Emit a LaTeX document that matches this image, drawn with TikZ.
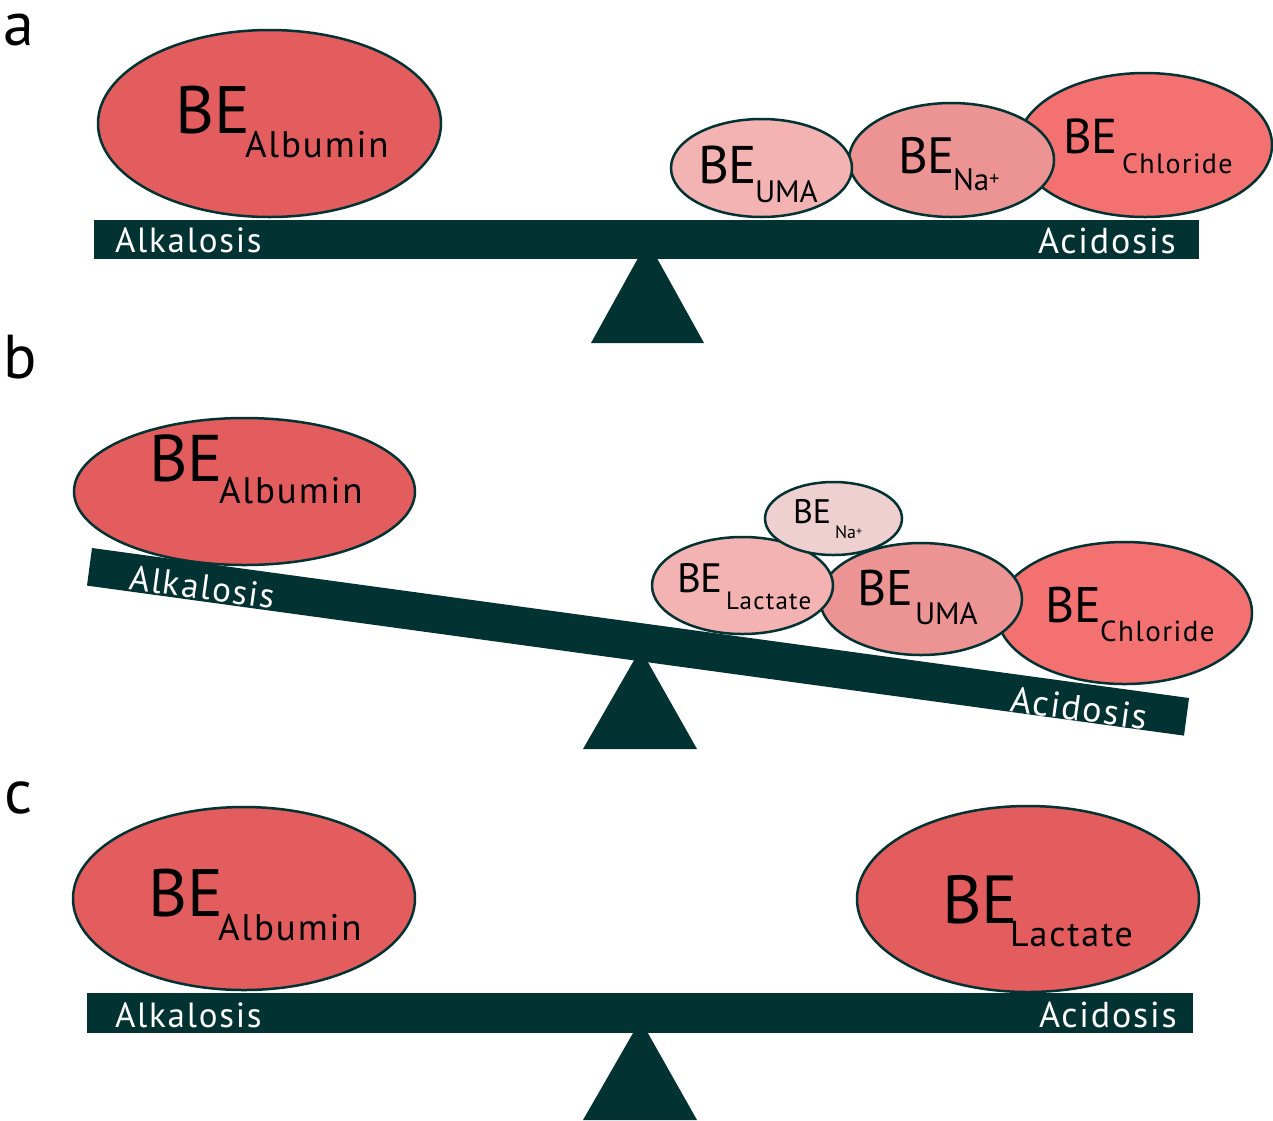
\documentclass[tikz,border=0pt]{standalone}
\usepackage{fontspec}
\setmainfont{PT Sans}
\newfontfamily\widefam{PT Sans}[LetterSpace=5]
\usetikzlibrary{shapes.geometric}
\definecolor{beamc}{HTML}{033232}
\definecolor{albc}{HTML}{E35D5E}
\definecolor{chlc}{HTML}{F47171}
\definecolor{midc}{HTML}{EC9494}
\definecolor{lightc}{HTML}{F3B3B3}
\definecolor{palec}{HTML}{EFD0D0}
\newcommand\fsz[1]{\fontsize{#1}{#1}\selectfont}
\newcommand\wsz[1]{\widefam\fontsize{#1}{#1}\selectfont}
\begin{document}
\begin{tikzpicture}[x=1pt,y=-1pt,
  blob/.style={ellipse, draw=beamc, line width=2.5pt, inner sep=0pt, outer sep=0pt},
  txt/.style={anchor=base west, inner sep=0pt, outer sep=0pt, text=black},
  beamtxt/.style={anchor=base west, inner sep=0pt, outer sep=0pt, text=white},
  paneltxt/.style={anchor=base west, inner sep=0pt, outer sep=0pt, text=black, font=\fsz{62}}]
\useasboundingbox (0,0) rectangle (1273,1120);

% ---------------- panel a ----------------
\node[paneltxt] (la) at (4,45) {a};
\fill[beamc] (591,343) -- (647.5,241) -- (704,343) -- cycle;
\fill[beamc] (94,220) rectangle (1199,259);
\node[beamtxt, font=\wsz{35}] (alkA) at (115,252) {Alkalosis};
\node[beamtxt, font=\wsz{36}] (acdA) at (1038,253) {Acidosis};

\node[blob, fill=albc, minimum width=343pt, minimum height=187pt] (albA) at (269.5,123.5) {};
\node[txt, font=\fsz{67}] (albAbe) at (175,133) {BE};
\node[txt, font=\wsz{37}] (albAsub) at (245,157) {Albumin};

\node[blob, fill=chlc, minimum width=254pt, minimum height=144pt] (chlA) at (1145,145) {};
\node[blob, fill=midc, minimum width=205pt, minimum height=114pt] (naA) at (951.5,160) {};
\node[blob, fill=lightc, minimum width=181pt, minimum height=98pt] (umaA) at (761.5,168) {};
\node[txt, font=\fsz{53}] (umaAbe) at (698,183) {BE};
\node[txt, font=\fsz{31}] (umaAsub) at (755,202) {UMA};
\node[txt, font=\fsz{51}] (naAbe) at (898,173) {BE};
\node[txt, font=\fsz{31}] (naAsub) at (953,190) {Na{\fsz{20}\raisebox{5pt}{+}}};
\node[txt, font=\fsz{49}] (chlAbe) at (1063,153) {BE};
\node[txt, font=\wsz{28}] (chlAsub) at (1122,173) {Chloride};

% ---------------- panel b ----------------
\node[paneltxt] (lb) at (4,378) {b};
\fill[beamc] (583,749) -- (640.5,649) -- (697,749) -- cycle;
\fill[beamc] (92,548) -- (1189,698) -- (1184,735.6) -- (87,585.6) -- cycle;
\node[beamtxt, font=\wsz{35}, rotate=-7.79] (alkB) at (128,589) {Alkalosis};
\node[beamtxt, font=\wsz{36}, rotate=-7.79] (acdB) at (1009,711) {Acidosis};

\node[blob, fill=albc, minimum width=341pt, minimum height=147pt] (albB) at (244.5,491.5) {};
\node[txt, font=\fsz{66}] (albBbe) at (149,481) {BE};
\node[txt, font=\wsz{37}] (albBsub) at (219,503) {Albumin};

\node[blob, fill=chlc, minimum width=255pt, minimum height=142pt] (chlB) at (1124.5,613) {};
\node[blob, fill=midc, minimum width=202pt, minimum height=112pt] (umaB) at (921,599) {};
\node[blob, fill=lightc, minimum width=181pt, minimum height=97pt] (lacB) at (742.5,585.5) {};
\node[blob, fill=palec, minimum width=137pt, minimum height=73pt] (naB) at (833.5,518.5) {};

\node[txt, font=\fsz{34}] (naBbe) at (793,523) {BE};
\node[txt, font=\fsz{18}] (naBsub) at (835,538) {Na{\fsz{12}\raisebox{3pt}{+}}};
\node[txt, font=\fsz{41}] (lacBbe) at (677,592) {BE};
\node[txt, font=\wsz{25}] (lacBsub) at (726,609) {Lactate};
\node[txt, font=\fsz{50}] (umaBbe) at (857,605) {BE};
\node[txt, font=\fsz{31}] (umaBsub) at (915,624) {UMA};
\node[txt, font=\fsz{50}] (chlBbe) at (1045,622) {BE};
\node[txt, font=\wsz{29}] (chlBsub) at (1100,641) {Chloride};

% ---------------- panel c ----------------
\node[paneltxt] (lc) at (5,813) {c};
\fill[beamc] (583,1120) -- (640.5,1020) -- (697,1120) -- cycle;
\fill[beamc] (87,993) rectangle (1193,1033);
\node[beamtxt, font=\wsz{35}] (alkC) at (115,1027) {Alkalosis};
\node[beamtxt, font=\wsz{36}] (acdC) at (1039,1027) {Acidosis};

\node[blob, fill=albc, minimum width=342pt, minimum height=183pt] (albC) at (244,898.5) {};
\node[txt, font=\fsz{67}] (albCbe) at (148,916) {BE};
\node[txt, font=\wsz{37}] (albCsub) at (218,940) {Albumin};

\node[blob, fill=albc, minimum width=342pt, minimum height=186pt] (lacC) at (1028,899) {};
\node[txt, font=\fsz{68}] (lacCbe) at (942,923) {BE};
\node[txt, font=\wsz{36}] (lacCsub) at (1010,946) {Lactate};
\end{tikzpicture}
\end{document}
